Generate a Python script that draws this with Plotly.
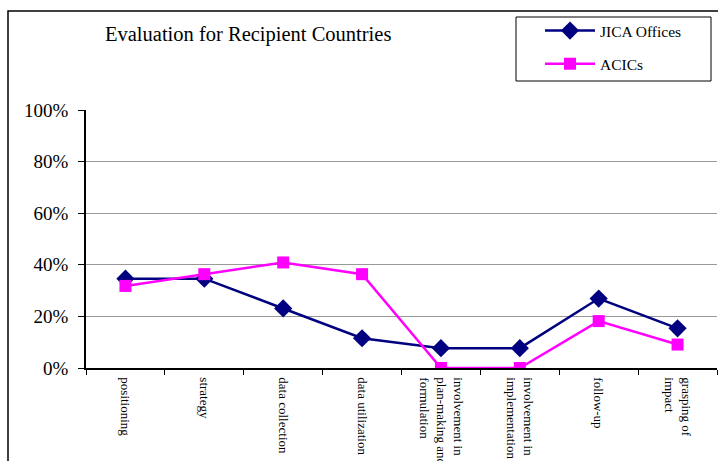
import plotly.graph_objects as go

categories = [
    "positioning",
    "strategy",
    "data collection",
    "data utilization",
    "involvement in<br>plan-making and<br>formulation",
    "involvement in<br>implementation",
    "follow-up",
    "grasping of<br>impact",
]
jica_offices = [9/26, 9/26, 6/26, 3/26, 2/26, 2/26, 7/26, 4/26]
acics = [7/22, 8/22, 9/22, 8/22, 0, 0, 4/22, 2/22]

serif = "Liberation Serif, Times New Roman, serif"

W, H = 718, 461
L, R, T, B = 86, 1, 110, 93
pw, ph = W - L - R, H - T - B


def px(x):
    return (x - L) / pw


def py(y):
    return (H - B - y) / ph


fig = go.Figure()
fig.add_trace(go.Scatter(
    x=categories, y=jica_offices, name="JICA Offices", mode="lines+markers",
    line=dict(color="#000080", width=2.5),
    marker=dict(symbol="diamond", size=14, color="#000080"),
    legendgroup="a",
))
fig.add_trace(go.Scatter(
    x=categories, y=acics, name="ACICs", mode="lines+markers",
    line=dict(color="#FF00FF", width=2.5),
    marker=dict(symbol="square", size=12, color="#FF00FF"),
    legendgroup="b",
))

fig.update_layout(
    width=W, height=H,
    margin=dict(l=L, r=R, t=T, b=B, autoexpand=False),
    paper_bgcolor="white", plot_bgcolor="white",
    font=dict(family=serif, color="black"),
    showlegend=True,
    legend=dict(
        x=px(540), y=py(14), xanchor="left", yanchor="top",
        bgcolor="rgba(0,0,0,0)", borderwidth=0,
        font=dict(family=serif, size=15.5, color="black"),
        itemwidth=50, tracegroupgap=10,
    ),
    xaxis=dict(
        type="category", range=[-0.5, 7.5],
        showline=True, linecolor="black", linewidth=1.5,
        ticks="outside", tickson="boundaries", ticklen=5, tickcolor="black",
        tickangle=90, showgrid=False,
        tickfont=dict(family=serif, size=13, color="black"),
        ticklabelstandoff=5,
    ),
    yaxis=dict(
        range=[0, 1], dtick=0.2, tickformat=".0%",
        showline=True, linecolor="black", linewidth=1.5,
        ticks="outside", ticklen=6, tickcolor="black",
        showgrid=True, gridcolor="#999999", gridwidth=1,
        zeroline=False,
        tickfont=dict(family=serif, size=19, color="black"),
        ticklabelstandoff=6,
    ),
    shapes=[
        # outer chart frame
        dict(type="rect", xref="paper", yref="paper",
             x0=px(8), x1=px(730), y0=py(480), y1=py(11),
             line=dict(color="black", width=1.5), fillcolor="rgba(0,0,0,0)",
             layer="below"),
        # legend frame
        dict(type="rect", xref="paper", yref="paper",
             x0=px(516), x1=px(711), y0=py(81), y1=py(17),
             line=dict(color="black", width=1), fillcolor="white",
             layer="below"),
    ],
    annotations=[
        dict(text="Evaluation for Recipient Countries", xref="paper", yref="paper",
             x=px(248), y=py(35), xanchor="center", yanchor="middle",
             showarrow=False, font=dict(family=serif, size=20.5, color="black")),
    ],
)

fig.write_html("out.html")
